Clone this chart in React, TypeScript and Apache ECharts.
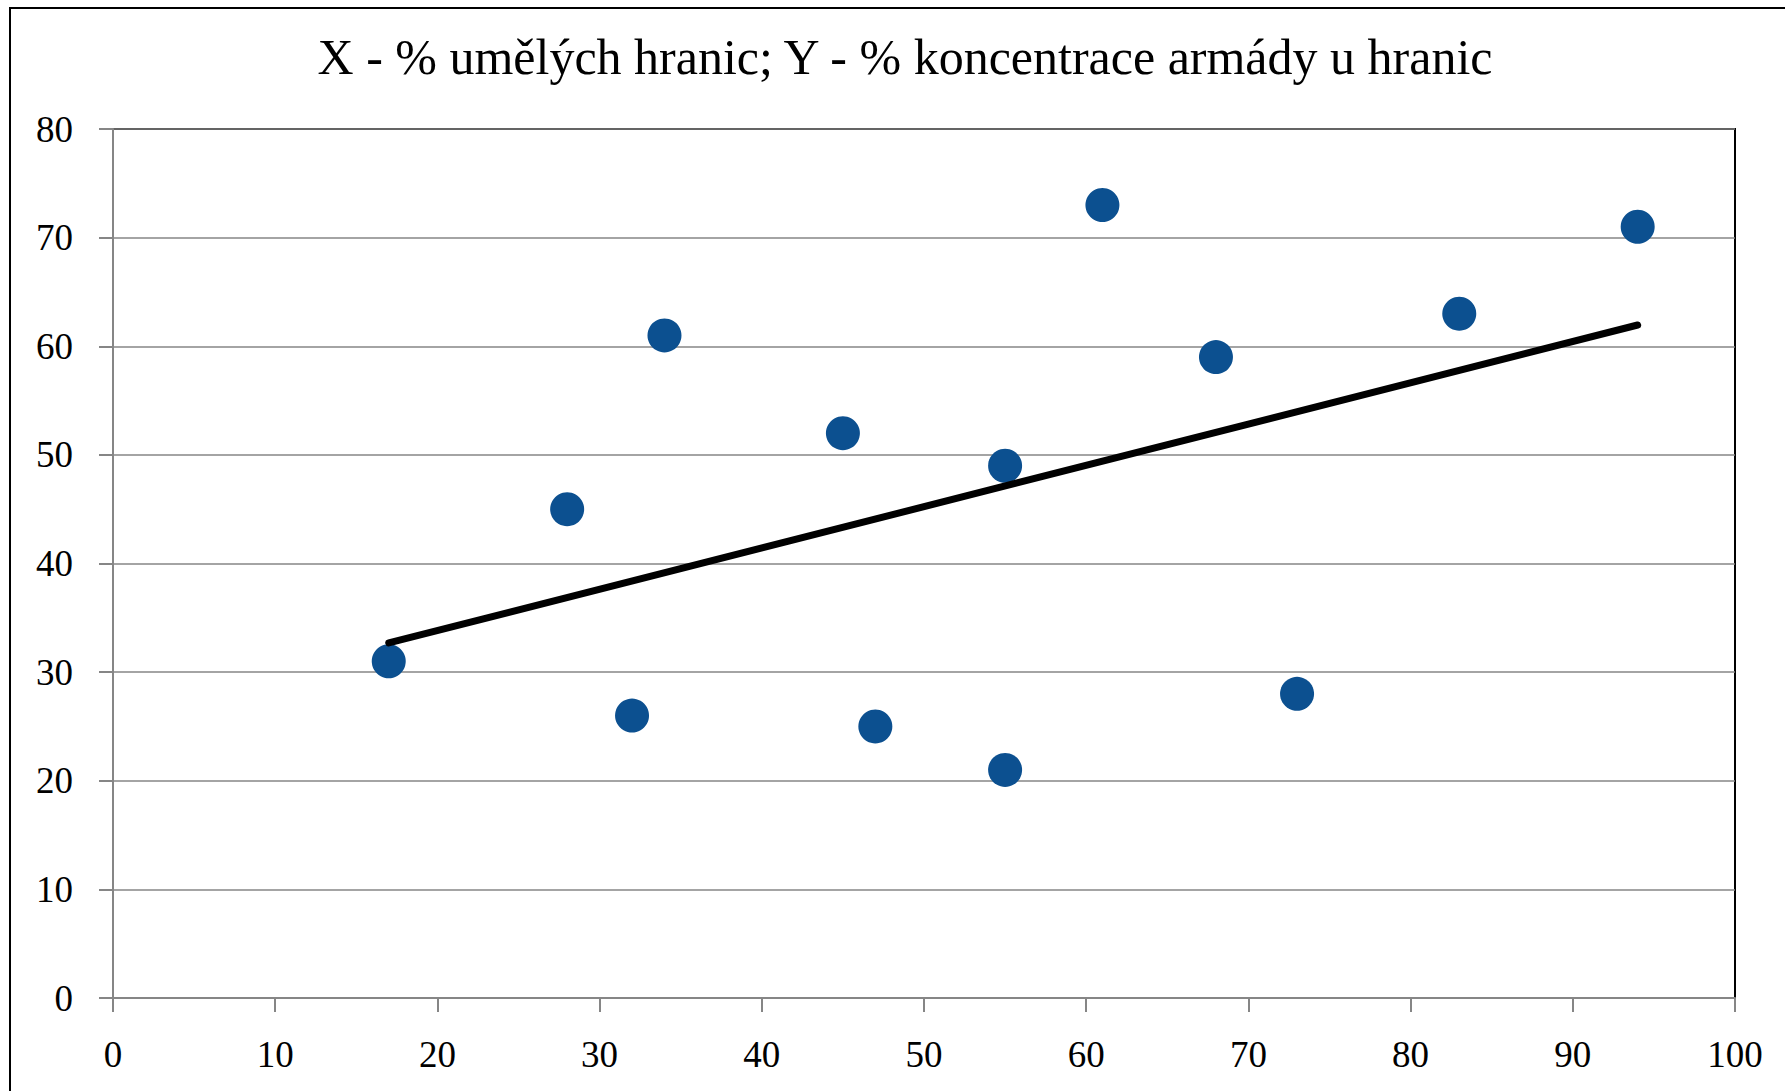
import React, { useEffect, useRef } from "react";
import * as echarts from "echarts";

const titleText = "X - % umělých hranic; Y - % koncentrace armády u hranic";
const xValues = [17, 28, 32, 34, 45, 47, 55, 55, 61, 68, 73, 83, 94];
const yValues = [31, 45, 26, 61, 52, 25, 49, 21, 73, 59, 28, 63, 71];
const xTicks = [0, 10, 20, 30, 40, 50, 60, 70, 80, 90, 100];
const yTicks = [0, 10, 20, 30, 40, 50, 60, 70, 80];

function regression(xs: number[], ys: number[]) {
  const n = xs.length;
  const mx = xs.reduce((a, b) => a + b, 0) / n;
  const my = ys.reduce((a, b) => a + b, 0) / n;
  let sxy = 0;
  let sxx = 0;
  for (let i = 0; i < n; i++) {
    sxy += (xs[i] - mx) * (ys[i] - my);
    sxx += (xs[i] - mx) * (xs[i] - mx);
  }
  const slope = sxy / sxx;
  return { slope, intercept: my - slope * mx };
}

export default function App() {
  const ref = useRef<HTMLDivElement>(null);
  useEffect(() => {
    if (!ref.current) return;
    const chart = echarts.init(ref.current, undefined, { renderer: "svg" });
    const { slope, intercept } = regression(xValues, yValues);
    const xMin = Math.min(...xValues);
    const xMax = Math.max(...xValues);
    const trend = [
      [xMin, intercept + slope * xMin],
      [xMax, intercept + slope * xMax],
    ];
    const font = "'Liberation Serif', 'Times New Roman', serif";
    const gridColor = "#868686";
    chart.setOption({
      animation: false,
      backgroundColor: "#fff",
      title: {
        text: titleText,
        left: 900,
        textAlign: "center",
        top: 27,
        textStyle: { fontFamily: font, fontSize: 50, fontWeight: "normal", color: "#000" },
      },
      graphic: [
        {
          type: "rect",
          shape: { x: 10, y: 8, width: 3000, height: 3000 },
          style: { fill: "none", stroke: "#000", lineWidth: 2 },
          silent: true,
        },
      ],
      grid: {
        left: 113,
        right: 50,
        top: 129,
        bottom: 93,
        show: true,
        borderColor: "#000",
        borderWidth: 2,
      },
      xAxis: {
        type: "value",
        min: xTicks[0],
        max: xTicks[xTicks.length - 1],
        interval: 10,
        axisLine: { show: true, onZero: false, lineStyle: { color: gridColor, width: 2 } },
        axisTick: { show: true, inside: false, length: 14, lineStyle: { color: gridColor, width: 2 } },
        axisLabel: { color: "#000", fontFamily: font, fontSize: 37, margin: 38 },
        splitLine: { show: false },
      },
      yAxis: {
        type: "value",
        min: yTicks[0],
        max: yTicks[yTicks.length - 1],
        interval: 10,
        axisLine: { show: true, onZero: false, lineStyle: { color: gridColor, width: 2 } },
        axisTick: { show: true, inside: false, length: 14, lineStyle: { color: gridColor, width: 2 } },
        axisLabel: { color: "#000", fontFamily: font, fontSize: 37, margin: 40 },
        splitLine: { show: true, lineStyle: { color: gridColor, width: 1.5 } },
      },
      series: [
        {
          type: "scatter",
          data: xValues.map((x, i) => [x, yValues[i]]),
          symbol: "circle",
          symbolSize: 34,
          itemStyle: { color: "#0c5090", opacity: 1 },
          z: 3,
        },
        {
          type: "line",
          data: trend,
          showSymbol: false,
          symbol: "none",
          lineStyle: { color: "#000", width: 7, cap: "round" },
          z: 4,
        },
      ],
    });
    return () => chart.dispose();
  }, []);
  return (
    <div
      ref={ref}
      style={{ position: "fixed", left: 0, top: 0, width: 1785, height: 1091 }}
    />
  );
}
